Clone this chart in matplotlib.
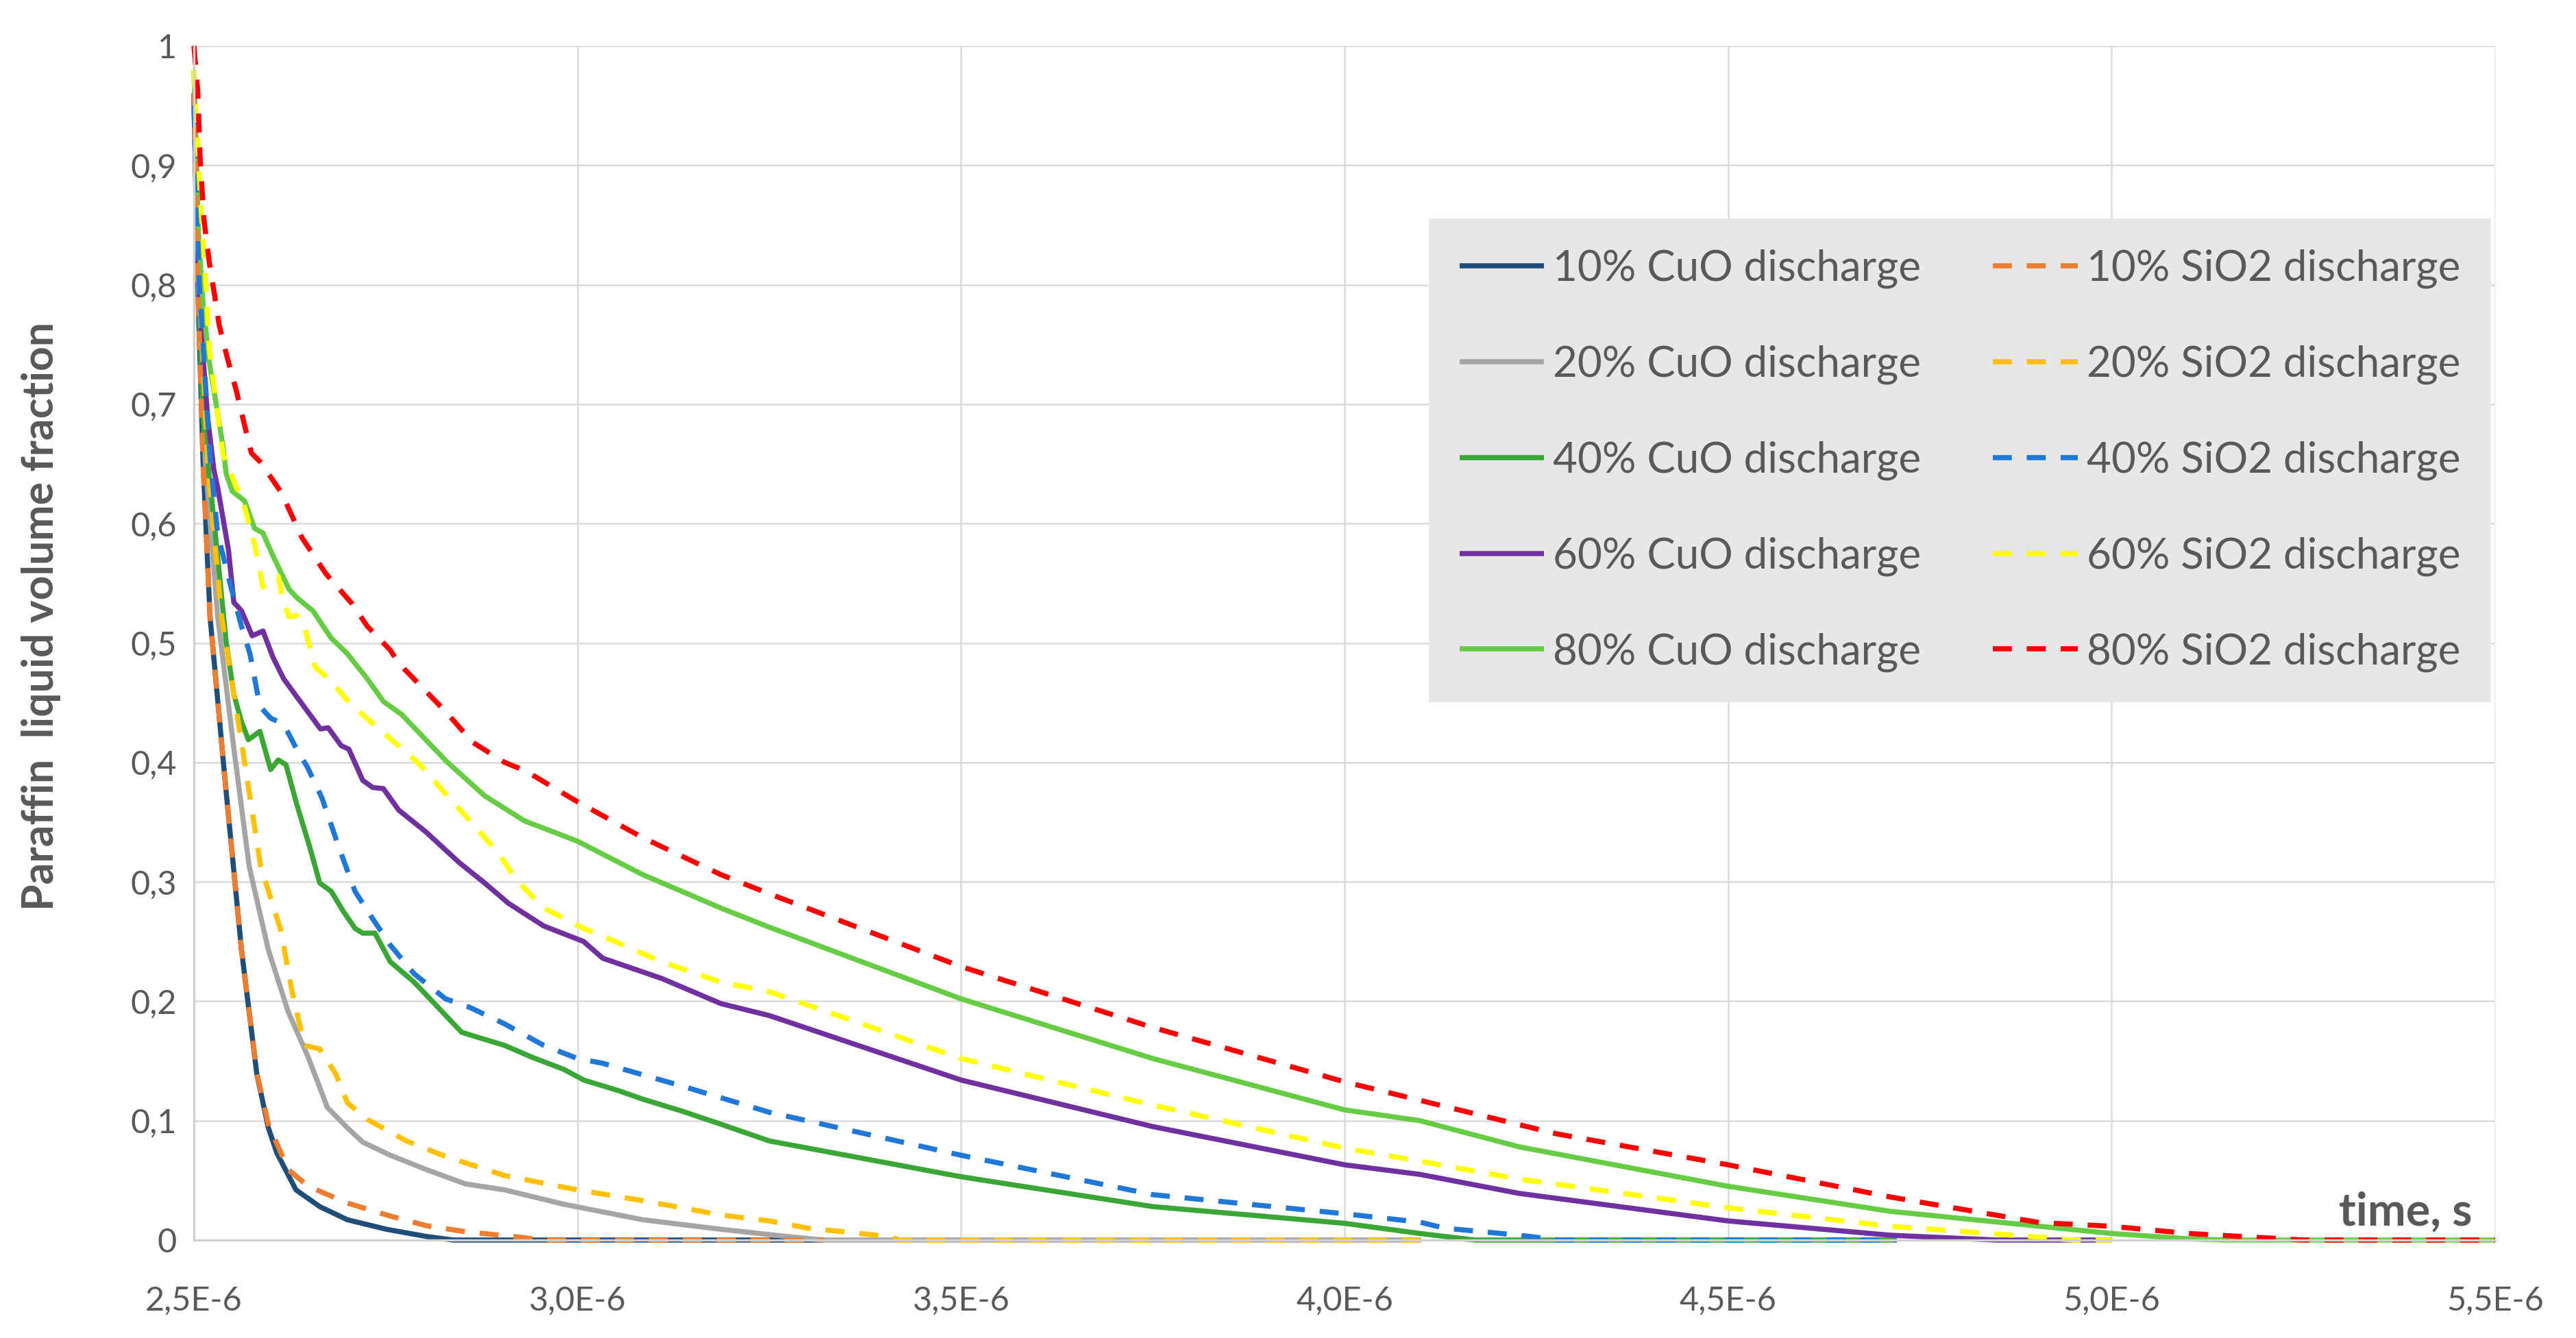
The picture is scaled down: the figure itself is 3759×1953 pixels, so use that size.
import matplotlib
matplotlib.use("Agg")
import matplotlib.pyplot as plt

plt.rcParams['font.family'] = ['Lato', 'DejaVu Sans']

# time in units of 1E-6 s, liquid fraction
cuo10_t = [2.500, 2.505, 2.512, 2.521, 2.541, 2.562, 2.582, 2.597, 2.608, 2.633, 2.664, 2.700, 2.751, 2.803, 2.838, 3.320]
cuo10_v = [0.960, 0.800, 0.650, 0.522, 0.382, 0.243, 0.139, 0.094, 0.073, 0.042, 0.028, 0.017, 0.009, 0.003, 0.000, 0.000]

cuo20_t = [2.500, 2.506, 2.515, 2.531, 2.551, 2.572, 2.597, 2.623, 2.649, 2.674, 2.700, 2.720, 2.756, 2.803,
           2.854, 2.905, 2.982, 3.085, 3.187, 3.273, 3.320, 4.100]
cuo20_v = [0.950, 0.800, 0.650, 0.522, 0.417, 0.313, 0.243, 0.191, 0.153, 0.111, 0.094, 0.082, 0.071, 0.059,
           0.047, 0.042, 0.030, 0.017, 0.009, 0.003, 0.000, 0.000]

cuo40_t = [2.500, 2.505, 2.511, 2.528, 2.542, 2.552, 2.562, 2.571, 2.586, 2.600, 2.610, 2.620, 2.634, 2.651,
           2.664, 2.679, 2.695, 2.710, 2.720, 2.736, 2.756, 2.787, 2.818, 2.849, 2.869, 2.905, 2.941, 2.982,
           3.008, 3.054, 3.085, 3.136, 3.187, 3.250, 3.500, 3.750, 4.000, 4.098, 4.170, 4.720]
cuo40_v = [0.960, 0.850, 0.694, 0.591, 0.501, 0.457, 0.434, 0.419, 0.426, 0.394, 0.402, 0.398, 0.365, 0.329,
           0.299, 0.292, 0.275, 0.261, 0.257, 0.257, 0.233, 0.216, 0.195, 0.174, 0.170, 0.163, 0.153, 0.143,
           0.134, 0.125, 0.118, 0.108, 0.097, 0.083, 0.053, 0.028, 0.014, 0.0055, 0.000, 0.000]

cuo60_t = [2.500, 2.505, 2.511, 2.518, 2.526, 2.531, 2.545, 2.552, 2.562, 2.576, 2.590, 2.603, 2.617, 2.634,
           2.665, 2.675, 2.692, 2.702, 2.720, 2.733, 2.747, 2.767, 2.802, 2.846, 2.879, 2.910, 2.956, 3.008,
           3.033, 3.110, 3.187, 3.250, 3.500, 3.750, 4.000, 4.098, 4.228, 4.500, 4.712, 4.850, 5.000]
cuo60_v = [0.960, 0.819, 0.747, 0.688, 0.645, 0.630, 0.578, 0.534, 0.527, 0.506, 0.510, 0.488, 0.470, 0.455,
           0.428, 0.429, 0.414, 0.411, 0.385, 0.379, 0.378, 0.360, 0.342, 0.316, 0.299, 0.282, 0.263, 0.250,
           0.236, 0.219, 0.198, 0.188, 0.134, 0.095, 0.063, 0.055, 0.039, 0.016, 0.004, 0.000, 0.000]

cuo80_t = [2.500, 2.503, 2.506, 2.512, 2.520, 2.529, 2.538, 2.542, 2.550, 2.566, 2.579, 2.590, 2.603, 2.624,
           2.634, 2.655, 2.679, 2.700, 2.726, 2.747, 2.771, 2.829, 2.879, 2.931, 3.000, 3.085, 3.187, 3.250,
           3.500, 3.750, 4.000, 4.098, 4.228, 4.500, 4.712, 5.000, 5.100, 5.150, 5.500]
cuo80_v = [0.980, 0.914, 0.842, 0.783, 0.735, 0.700, 0.664, 0.642, 0.627, 0.619, 0.596, 0.592, 0.573, 0.545,
           0.538, 0.527, 0.504, 0.491, 0.470, 0.451, 0.440, 0.401, 0.372, 0.351, 0.334, 0.306, 0.278, 0.262,
           0.202, 0.152, 0.109, 0.100, 0.078, 0.045, 0.024, 0.0055, 0.001, 0.000, 0.000]

sio2_10_t = [2.500, 2.505, 2.512, 2.521, 2.541, 2.562, 2.582, 2.597, 2.623, 2.649, 2.700, 2.751, 2.803, 2.854,
             2.931, 2.950, 3.320]
sio2_10_v = [0.960, 0.800, 0.650, 0.522, 0.382, 0.243, 0.140, 0.097, 0.059, 0.045, 0.031, 0.021, 0.012, 0.007,
             0.002, 0.000, 0.000]

sio2_20_t = [2.500, 2.507, 2.518, 2.536, 2.562, 2.587, 2.613, 2.628, 2.644, 2.664, 2.685, 2.700, 2.726, 2.777,
             2.828, 2.905, 3.000, 3.085, 3.187, 3.250, 3.300, 3.406, 3.420, 4.100]
sio2_20_v = [0.950, 0.800, 0.650, 0.522, 0.417, 0.313, 0.260, 0.208, 0.163, 0.160, 0.139, 0.115, 0.101, 0.083,
             0.070, 0.054, 0.042, 0.033, 0.021, 0.016, 0.010, 0.003, 0.000, 0.000]

sio2_40_t = [2.500, 2.507, 2.521, 2.531, 2.549, 2.562, 2.573, 2.586, 2.600, 2.617, 2.634, 2.648, 2.667, 2.690,
             2.710, 2.731, 2.756, 2.787, 2.828, 2.859, 2.905, 2.956, 3.000, 3.033, 3.136, 3.250, 3.500, 3.750,
             4.000, 4.098, 4.130, 4.228, 4.280, 4.720]
sio2_40_v = [0.950, 0.800, 0.655, 0.591, 0.545, 0.514, 0.491, 0.447, 0.437, 0.432, 0.411, 0.396, 0.370, 0.327,
             0.292, 0.271, 0.247, 0.223, 0.202, 0.195, 0.181, 0.163, 0.152, 0.148, 0.129, 0.107, 0.071, 0.038,
             0.022, 0.015, 0.010, 0.004, 0.000, 0.000]

sio2_60_t = [2.500, 2.509, 2.515, 2.520, 2.529, 2.538, 2.566, 2.579, 2.590, 2.600, 2.610, 2.617, 2.624, 2.634,
             2.644, 2.658, 2.679, 2.700, 2.720, 2.754, 2.795, 2.829, 2.863, 2.897, 2.920, 2.956, 3.008, 3.049,
             3.110, 3.187, 3.250, 3.500, 3.750, 4.000, 4.098, 4.228, 4.500, 4.712, 4.906, 4.950, 5.000]
sio2_60_v = [0.980, 0.866, 0.807, 0.747, 0.700, 0.658, 0.614, 0.583, 0.547, 0.552, 0.556, 0.534, 0.522, 0.523,
             0.514, 0.480, 0.468, 0.452, 0.440, 0.421, 0.398, 0.373, 0.349, 0.324, 0.302, 0.278, 0.261, 0.250,
             0.233, 0.216, 0.208, 0.152, 0.113, 0.077, 0.066, 0.051, 0.027, 0.0115, 0.0024, 0.000, 0.000]

sio2_80_t = [2.500, 2.505, 2.508, 2.513, 2.520, 2.526, 2.533, 2.543, 2.555, 2.565, 2.575, 2.586, 2.614, 2.641,
             2.672, 2.706, 2.726, 2.756, 2.767, 2.829, 2.863, 2.905, 2.932, 3.000, 3.085, 3.187, 3.250, 3.500,
             3.750, 4.000, 4.130, 4.276, 4.500, 4.712, 4.906, 5.000, 5.100, 5.196, 5.250, 5.500]
sio2_80_v = [1.000, 0.962, 0.907, 0.855, 0.819, 0.795, 0.766, 0.740, 0.712, 0.685, 0.659, 0.652, 0.626, 0.588,
             0.558, 0.533, 0.514, 0.494, 0.483, 0.442, 0.417, 0.400, 0.393, 0.367, 0.337, 0.306, 0.290, 0.229,
             0.178, 0.1325, 0.112, 0.089, 0.063, 0.036, 0.0146, 0.0115, 0.0055, 0.002, 0.000, 0.000]

cuo_series = [
    ('10% CuO discharge', cuo10_t, cuo10_v, '#1f4e79'),
    ('20% CuO discharge', cuo20_t, cuo20_v, '#a5a5a5'),
    ('40% CuO discharge', cuo40_t, cuo40_v, '#3aa635'),
    ('60% CuO discharge', cuo60_t, cuo60_v, '#7030a0'),
    ('80% CuO discharge', cuo80_t, cuo80_v, '#66cc44'),
]
sio2_series = [
    ('10% SiO2 discharge', sio2_10_t, sio2_10_v, '#ed7d31'),
    ('20% SiO2 discharge', sio2_20_t, sio2_20_v, '#ffc000'),
    ('40% SiO2 discharge', sio2_40_t, sio2_40_v, '#1f78d8'),
    ('60% SiO2 discharge', sio2_60_t, sio2_60_v, '#ffff00'),
    ('80% SiO2 discharge', sio2_80_t, sio2_80_v, '#ff0000'),
]

x_ticks = [2.5, 3.0, 3.5, 4.0, 4.5, 5.0, 5.5]
x_labels = ['2,5E-6', '3,0E-6', '3,5E-6', '4,0E-6', '4,5E-6', '5,0E-6', '5,5E-6']
y_ticks = [0, 0.1, 0.2, 0.3, 0.4, 0.5, 0.6, 0.7, 0.8, 0.9, 1.0]
y_labels = ['0', '0,1', '0,2', '0,3', '0,4', '0,5', '0,6', '0,7', '0,8', '0,9', '1']

W, H = 3759, 1953
fig = plt.figure(figsize=(W / 200, H / 200), dpi=200)
ax = fig.add_axes([283 / W, 1 - 1810 / H, (3641 - 283) / W, (1810 - 67) / H])

lw = 2.7
for name, t, v, c in cuo_series:
    ax.plot(t, v, color=c, lw=lw, label=name, clip_on=False, solid_capstyle='butt')
for name, t, v, c in sio2_series:
    ax.plot(t, v, color=c, lw=lw, label=name, dashes=(3.7, 2.9), clip_on=False)

ax.set_xlim(2.5, 5.5)
ax.set_ylim(0, 1)
ax.set_xticks(x_ticks)
ax.set_xticklabels(x_labels)
ax.set_yticks(y_ticks)
ax.set_yticklabels(y_labels)
ax.tick_params(axis='both', length=0, labelsize=17.5, labelcolor='#595959')
ax.tick_params(axis='x', pad=24)
ax.tick_params(axis='y', pad=9)
ax.grid(True, color='#d9d9d9', lw=0.9)
ax.set_axisbelow(True)
for s in ['top', 'right']:
    ax.spines[s].set_visible(False)
for s in ['left', 'bottom']:
    ax.spines[s].set_color('#d0d0d0')
    ax.spines[s].set_linewidth(1.2)

leg = ax.legend(ncol=2, loc='upper left', bbox_to_anchor=(2085 / W, 1 - 319 / H),
                bbox_transform=fig.transFigure, borderaxespad=0, fontsize=22.3,
                frameon=True, fancybox=False, facecolor='#e7e7e7', edgecolor='none',
                framealpha=1, handlelength=2.0, handletextpad=0.2, columnspacing=1.7,
                labelspacing=1.33, borderpad=0.72)
for txt in leg.get_texts():
    txt.set_color('#595959')

fig.text(60 / W, 1 - 899 / H, 'Paraffin  liquid volume fraction', rotation=90,
         ha='center', va='center', fontsize=22.5, fontweight='bold', color='#595959')
fig.text(3607 / W, 1 - 1769 / H, 'time, s', ha='right', va='center',
         fontsize=24, fontweight='bold', color='#595959')

fig.savefig('out.png', dpi=200, facecolor='white')
